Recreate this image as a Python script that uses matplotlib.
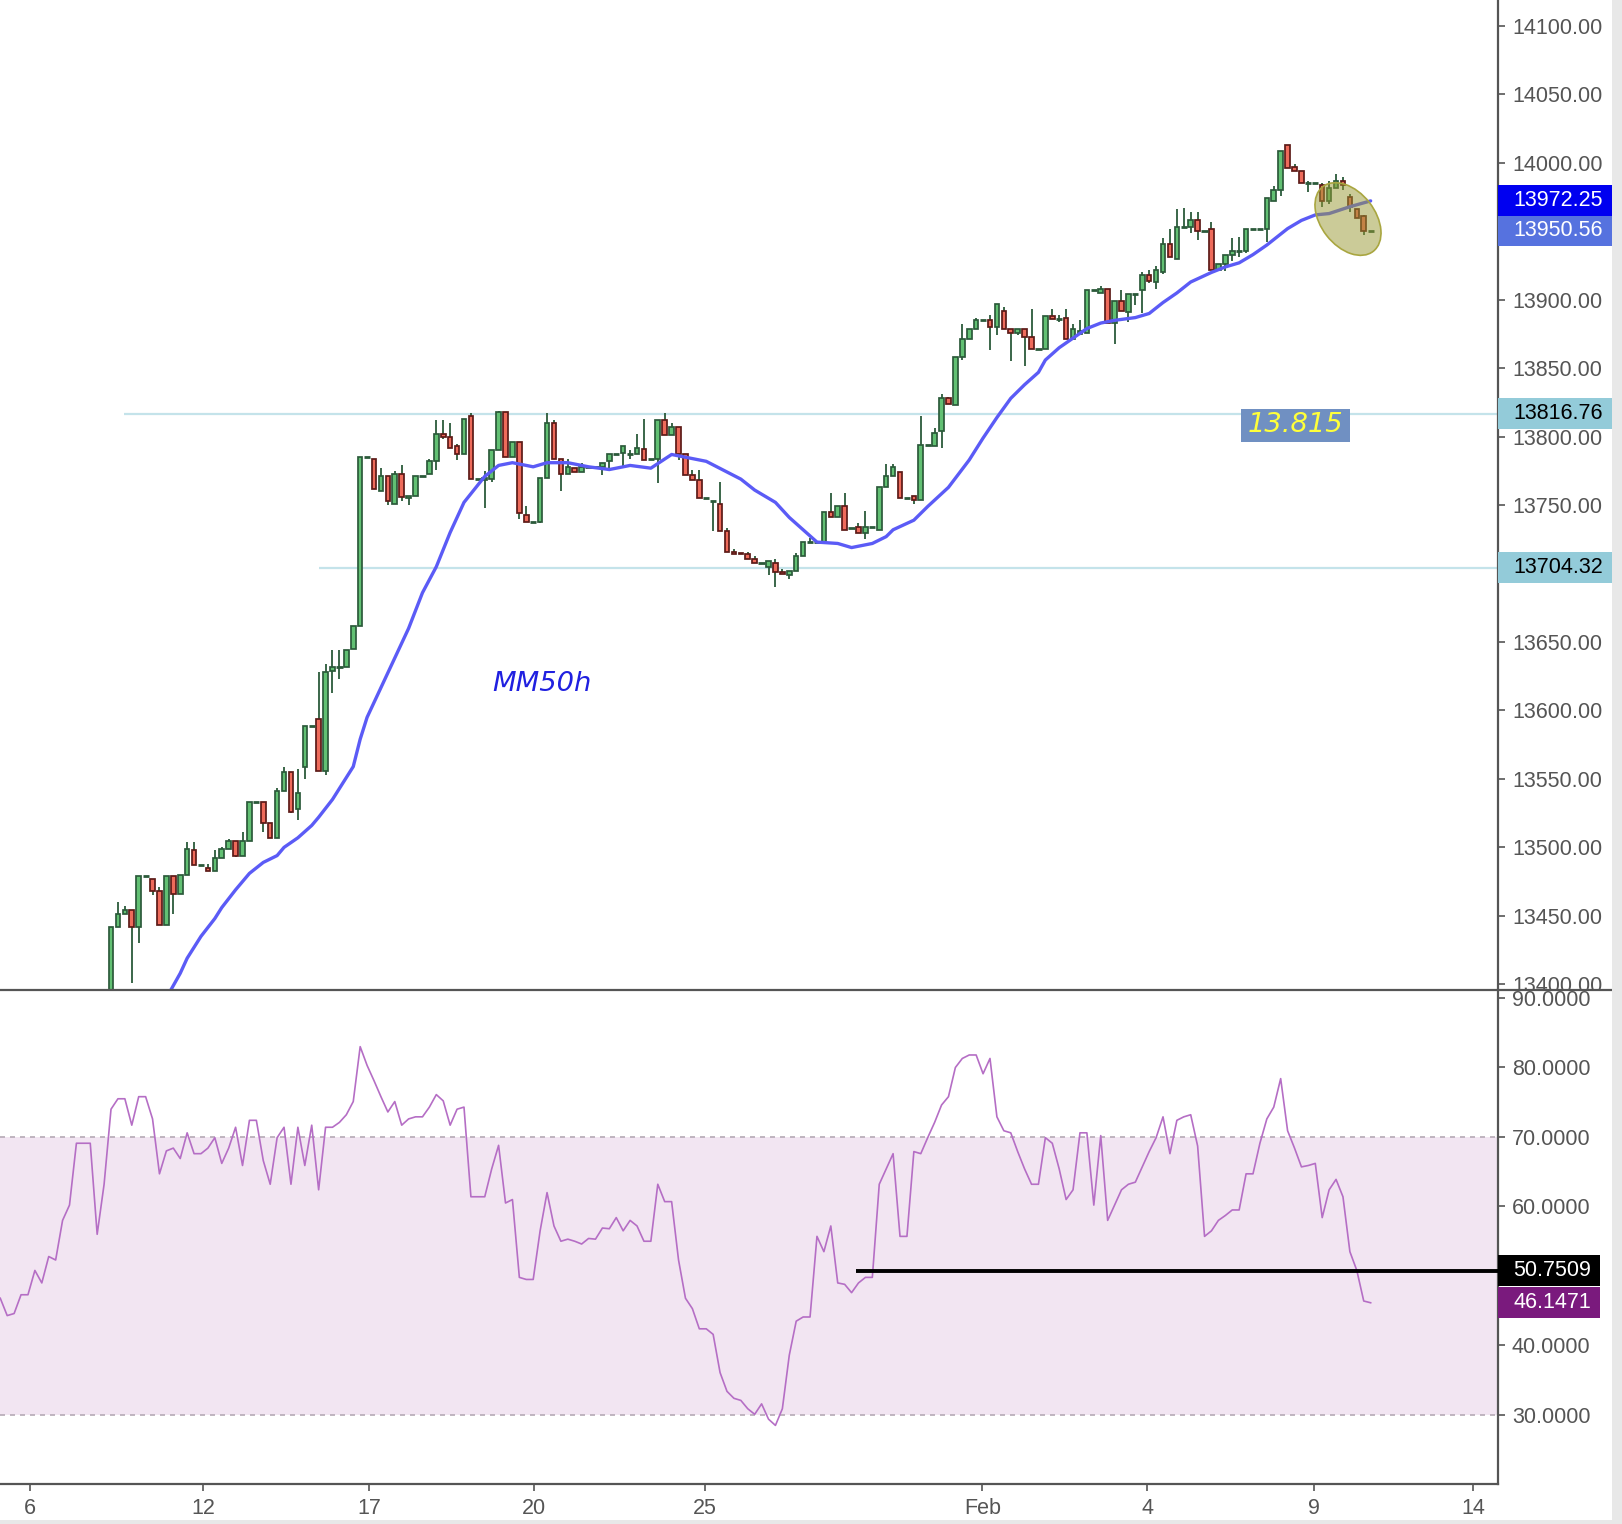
import numpy as np
import matplotlib
matplotlib.use('Agg')
import matplotlib.pyplot as plt
from matplotlib.patches import Rectangle, Ellipse
from matplotlib.lines import Line2D
from matplotlib.ticker import FormatStrFormatter
from matplotlib.transforms import blended_transform_factory, IdentityTransform

plt.rcParams['font.family'] = ['Liberation Sans', 'DejaVu Sans']

# hourly candles, bar 0 = first visible one (open, high, low, close)
ohlc = [
    (13380, 13442, 13375, 13442), (13442, 13460, 13442, 13451), (13451, 13457, 13451, 13454),
    (13454, 13454, 13401, 13442), (13442, 13479, 13430, 13479), (13479, 13479, 13479, 13479),
    (13477, 13477, 13465, 13468), (13468, 13471, 13443, 13443), (13443, 13479, 13443, 13479),
    (13479, 13479, 13451, 13466), (13466, 13480, 13466, 13480), (13480, 13504, 13480, 13499),
    (13498, 13504, 13487, 13487), (13487, 13487, 13487, 13487), (13485, 13488, 13483, 13483),
    (13483, 13498, 13483, 13492), (13492, 13500, 13492, 13499), (13499, 13506, 13499, 13505),
    (13505, 13505, 13493, 13494), (13494, 13511, 13494, 13505), (13505, 13533, 13505, 13533),
    (13533, 13533, 13533, 13533), (13533, 13533, 13511, 13518), (13518, 13518, 13507, 13507),
    (13507, 13543, 13507, 13541), (13541, 13559, 13541, 13555), (13555, 13555, 13525, 13526),
    (13528, 13557, 13520, 13540), (13559, 13589, 13550, 13589), (13589, 13589, 13589, 13589),
    (13594, 13628, 13556, 13556), (13556, 13634, 13553, 13628), (13629, 13644, 13613, 13632),
    (13632, 13644, 13623, 13632), (13632, 13644, 13632, 13644), (13645, 13662, 13645, 13662),
    (13662, 13785, 13662, 13785), (13785, 13785, 13785, 13785), (13784, 13784, 13762, 13762),
    (13760, 13777, 13760, 13771), (13771, 13771, 13750, 13753), (13751, 13775, 13751, 13773),
    (13773, 13779, 13753, 13756), (13755, 13757, 13750, 13757), (13757, 13771, 13757, 13771),
    (13771, 13771, 13771, 13771), (13773, 13784, 13773, 13782), (13782, 13812, 13776, 13802),
    (13802, 13812, 13798, 13800), (13800, 13810, 13792, 13792), (13793, 13795, 13783, 13787),
    (13787, 13813, 13787, 13813), (13815, 13817, 13769, 13769), (13769, 13769, 13769, 13769),
    (13768, 13775, 13748, 13770), (13769, 13790, 13767, 13790), (13790, 13819, 13790, 13818),
    (13818, 13818, 13785, 13785), (13785, 13796, 13785, 13796), (13796, 13796, 13740, 13744),
    (13743, 13749, 13738, 13738), (13738, 13738, 13738, 13738), (13738, 13770, 13737, 13770),
    (13770, 13817, 13770, 13810), (13810, 13812, 13784, 13784), (13784, 13784, 13760, 13773),
    (13773, 13784, 13773, 13778), (13777, 13777, 13774, 13774), (13774, 13781, 13774, 13778),
    (13778, 13778, 13778, 13778), (13778, 13778, 13778, 13778), (13778, 13781, 13772, 13781),
    (13782, 13787, 13777, 13787), (13787, 13787, 13787, 13787), (13788, 13793, 13778, 13793),
    (13787, 13790, 13784, 13787), (13787, 13802, 13787, 13792), (13791, 13813, 13783, 13783),
    (13784, 13784, 13784, 13784), (13784, 13812, 13766, 13812), (13812, 13817, 13801, 13801),
    (13801, 13810, 13801, 13807), (13807, 13807, 13783, 13787), (13787, 13787, 13772, 13772),
    (13772, 13776, 13768, 13768), (13768, 13776, 13755, 13755), (13755, 13755, 13755, 13755),
    (13753, 13753, 13731, 13753), (13751, 13767, 13731, 13731), (13731, 13733, 13716, 13716),
    (13716, 13718, 13714, 13714), (13715, 13715, 13714, 13714), (13714, 13716, 13711, 13711),
    (13711, 13713, 13708, 13708), (13708, 13708, 13708, 13708), (13705, 13709, 13699, 13709),
    (13708, 13711, 13690, 13701), (13701, 13703, 13700, 13700), (13699, 13702, 13696, 13702),
    (13702, 13715, 13702, 13713), (13713, 13723, 13713, 13723), (13723, 13726, 13723, 13723),
    (13723, 13723, 13723, 13723), (13723, 13745, 13723, 13745), (13745, 13759, 13741, 13741),
    (13741, 13749, 13741, 13749), (13749, 13759, 13732, 13732), (13733, 13733, 13733, 13733),
    (13734, 13737, 13730, 13730), (13730, 13746, 13725, 13734), (13734, 13734, 13734, 13734),
    (13732, 13763, 13732, 13763), (13763, 13780, 13763, 13771), (13771, 13780, 13771, 13778),
    (13774, 13774, 13755, 13755), (13755, 13755, 13755, 13755), (13757, 13757, 13751, 13754),
    (13754, 13815, 13754, 13794), (13794, 13794, 13794, 13794), (13793, 13806, 13793, 13803),
    (13804, 13831, 13792, 13828), (13828, 13829, 13824, 13824), (13823, 13858, 13823, 13858),
    (13858, 13882, 13856, 13871), (13871, 13879, 13871, 13879), (13879, 13887, 13879, 13885),
    (13885, 13885, 13885, 13885), (13885, 13889, 13863, 13880), (13880, 13897, 13874, 13897),
    (13892, 13895, 13879, 13879), (13879, 13879, 13855, 13876), (13876, 13879, 13874, 13879),
    (13879, 13879, 13852, 13873), (13873, 13893, 13864, 13864), (13864, 13864, 13864, 13864),
    (13864, 13888, 13864, 13888), (13888, 13893, 13886, 13886), (13886, 13889, 13884, 13886),
    (13887, 13893, 13871, 13871), (13871, 13882, 13871, 13879), (13875, 13885, 13875, 13877),
    (13876, 13907, 13876, 13907), (13907, 13907, 13907, 13907), (13905, 13910, 13905, 13908),
    (13908, 13908, 13883, 13883), (13883, 13899, 13868, 13899), (13899, 13907, 13892, 13892),
    (13891, 13904, 13884, 13904), (13904, 13904, 13896, 13904), (13907, 13920, 13890, 13918),
    (13918, 13922, 13912, 13914), (13913, 13925, 13908, 13922), (13920, 13945, 13919, 13941),
    (13941, 13952, 13931, 13931), (13930, 13966, 13930, 13953), (13953, 13967, 13953, 13953),
    (13953, 13964, 13949, 13958), (13958, 13964, 13944, 13950), (13950, 13950, 13950, 13950),
    (13952, 13957, 13922, 13922), (13922, 13926, 13922, 13926), (13926, 13933, 13921, 13933),
    (13933, 13945, 13928, 13936), (13936, 13946, 13931, 13936), (13936, 13952, 13934, 13952),
    (13952, 13952, 13952, 13952), (13952, 13952, 13952, 13952), (13952, 13974, 13942, 13974),
    (13972, 13983, 13972, 13980), (13980, 14009, 13976, 14009), (14013, 14013, 13996, 13996),
    (13997, 13999, 13994, 13994), (13994, 13994, 13985, 13985), (13985, 13987, 13979, 13985),
    (13985, 13985, 13985, 13985), (13984, 13985, 13968, 13972), (13972, 13987, 13970, 13982),
    (13982, 13992, 13982, 13987), (13987, 13990, 13980, 13984), (13975, 13977, 13964, 13968),
    (13966, 13966, 13960, 13960), (13961, 13962, 13947, 13950), (13950.56, 13950.56, 13950.56, 13950.56),
]

# MM50h moving average, read at these bars
ma_bars = [8, 10, 11, 13, 15, 16, 18, 20, 22, 24, 25, 27, 29, 30, 32, 35, 36, 37, 43, 45,
           47, 49, 51, 54, 56, 58, 61, 63, 66, 69, 72, 75, 78, 81, 83, 86, 91, 93, 96, 98,
           100, 102, 105, 107, 110, 112, 113, 116, 118, 121, 124, 126, 128, 130, 132, 134,
           135, 137, 139, 141, 143, 145, 148, 150, 152, 154, 156, 159, 161, 163, 165, 167,
           170, 172, 174, 176, 179, 182]
ma_values = [13390, 13408, 13419, 13435, 13448, 13456, 13469, 13481, 13489, 13494, 13500, 13507,
             13516, 13522, 13535, 13559, 13579, 13595, 13660, 13686, 13705, 13730, 13752, 13771,
             13779, 13781, 13778, 13781, 13781, 13778, 13776, 13779, 13777, 13787, 13785, 13782,
             13769, 13761, 13752, 13741, 13732, 13723, 13722, 13719, 13722, 13727, 13732, 13739,
             13749, 13763, 13783, 13799, 13814, 13828, 13838, 13847, 13856, 13865, 13872, 13879,
             13883, 13885, 13887, 13890, 13898, 13905, 13913, 13920, 13924, 13927, 13933, 13940,
             13952, 13958, 13962, 13963, 13968, 13972.25]

# RSI, one value per bar starting at bar -16
rsi_start = -16
rsi_values = [
    46.8, 44.3, 44.6, 47.3, 47.3, 50.8, 49.0, 52.8, 52.3, 58.0, 60.2, 69.1, 69.1, 69.1, 56.0, 63.2,
    74.0, 75.5, 75.5, 71.7, 75.8, 75.8, 72.6, 64.7, 68.0, 68.4,
    66.9, 70.6, 67.6, 67.6, 68.4, 69.9, 66.2, 68.4, 71.4, 65.9,
    72.4, 72.4, 66.6, 63.2, 69.9, 71.4, 63.2, 71.4, 65.9, 71.7,
    62.4, 71.4, 71.4, 72.1, 73.2, 75.1, 83.0, 80.3, 78.1, 75.8,
    73.6, 75.1, 71.7, 72.6, 72.9, 72.9, 74.3, 76.1, 75.2, 71.7,
    74.0, 74.3, 61.4, 61.4, 61.4, 65.4, 68.8, 60.5, 61.0, 49.8,
    49.5, 49.5, 56.5, 62.0, 57.2, 55.0, 55.3, 55.0, 54.6, 55.4,
    55.3, 56.9, 56.8, 58.4, 56.5, 58.0, 57.2, 55.0, 55.0, 63.2,
    60.7, 60.7, 52.3, 46.8, 45.3, 42.4, 42.4, 41.6, 36.1, 33.4,
    32.4, 32.1, 30.9, 30.1, 31.6, 29.4, 28.5, 30.9, 38.6, 43.5,
    44.1, 44.1, 55.7, 53.5, 57.2, 49.0, 48.8, 47.6, 49.0, 49.8,
    49.8, 63.2, 65.4, 67.6, 55.7, 55.7, 67.9, 67.6, 69.9, 72.1,
    74.6, 75.8, 80.0, 81.3, 81.8, 81.8, 79.1, 81.3, 72.9, 70.9,
    70.6, 67.9, 65.4, 63.2, 63.2, 69.9, 69.1, 65.4, 61.0, 62.4,
    70.6, 70.6, 60.2, 70.2, 58.0, 60.2, 62.4, 63.2, 63.5, 65.7,
    67.9, 69.9, 72.9, 67.6, 72.4, 72.9, 73.2, 68.7, 55.7, 56.5,
    58.0, 58.7, 59.5, 59.5, 64.7, 64.7, 69.1, 72.6, 74.3, 78.4,
    70.9, 68.4, 65.7, 65.9, 66.2, 58.4, 62.4, 63.9, 61.4, 53.5,
    50.8, 46.4, 46.1471,
]

tick_bars = [-11.7, 13.3, 37.3, 61.1, 85.8, 125.9, 149.7, 173.8, 196.8]
tick_labels = ['6', '12', '17', '20', '25', 'Feb', '4', '9', '14']

support = 13704.32
resistance = 13816.76
ma_last = 13972.25
last_price = 13950.56
rsi_level = 50.7509
rsi_last = 46.1471

W, H = 1622, 1524
GREY = '#555555'
fig = plt.figure(figsize=(W / 100, H / 100), dpi=100)
ax = fig.add_axes([0, (H - 990) / H, 1498 / W, 990 / H])
rx = fig.add_axes([0, (H - 1484) / H, 1498 / W, 494 / H])
ax.set_zorder(0)
rx.set_zorder(1)

xmin, xmax = -16.04, 200.4

# candles
ohlc = np.array(ohlc, dtype=float)
o, h, l, c = ohlc.T
bars = np.arange(len(ohlc))
h = np.maximum(h, np.maximum(o, c))
l = np.minimum(l, np.minimum(o, c))
up = c >= o
ax.vlines(bars, l, h, color='#2b5a3a', lw=1.3, zorder=2)
body = np.abs(c - o) >= 1
for mask, fill, edge in [(up & body, '#62c073', '#2b5a3a'), (~up & body, '#ee6b5b', '#5c1a17')]:
    ax.bar(bars[mask], (c - o)[mask], bottom=o[mask], width=0.66, color=fill,
           edgecolor=edge, linewidth=1.25, zorder=3)
doji = ~body
ax.hlines(c[doji], bars[doji] - 0.45, bars[doji] + 0.45,
          color=np.where(up[doji], '#2b5a3a', '#5c1a17'), lw=2.0, zorder=3)

ax.plot(ma_bars, ma_values, color='#5b5bf6', lw=2.4, zorder=4,
        solid_capstyle='round', solid_joinstyle='round')

ax.hlines(resistance, 1.9, xmax, color='#c4e3ea', lw=1.6, zorder=1)
ax.hlines(support, 30, xmax, color='#c4e3ea', lw=1.6, zorder=1)

ax.add_patch(Rectangle((163.3, 13796.1), 15.7, 24.1, fc='#7090c2', ec='none', zorder=5))
ax.text(171.15, 13808.6, '13.815', family='DejaVu Sans', style='italic', fontsize=19.7,
        color='#ffff3a', ha='center', va='center', zorder=6)
ax.text(62.3, 13619.5, 'MM50h', family='DejaVu Sans', style='italic', fontsize=19.7,
        color='#2020e0', ha='center', va='center', zorder=6)

ell = Ellipse((1348, H - 219), 82, 54, angle=-52, transform=IdentityTransform(),
              fc=(0.6, 0.6, 0.2, 0.5), ec='#a9a640', lw=1.2, zorder=7)
ax.add_patch(ell)

ax.set_xlim(xmin, xmax)
ax.set_ylim(13395.8, 14119)
ax.set_xticks([])
ax.yaxis.tick_right()
ax.set_yticks(np.arange(13400, 14101, 50))
ax.yaxis.set_major_formatter(FormatStrFormatter('%.2f'))
ax.tick_params(axis='y', direction='out', length=5, width=1.2, colors=GREY,
               labelsize=15.5, pad=5)
for s in ['left', 'top', 'bottom']:
    ax.spines[s].set_visible(False)
ax.spines['right'].set_color(GREY)
ax.spines['right'].set_linewidth(1.6)

# RSI panel
rsi_bars = np.arange(rsi_start, rsi_start + len(rsi_values))
rx.axhspan(30, 70, color='#f2e5f2', zorder=0, lw=0)
for lvl in (30, 70):
    rx.axhline(lvl, color='#b5a9b5', lw=1.2, ls=(0, (3, 3)), zorder=1)
rx.plot(rsi_bars, rsi_values, color='#b56ec5', lw=1.2, zorder=3)
rx.hlines(rsi_level, 107.7, xmax, color='black', lw=2.8, zorder=4)

rx.set_xlim(xmin, xmax)
rx.set_ylim(20.07, 91.15)
rx.yaxis.tick_right()
rx.set_yticks(np.arange(30, 91, 10))
rx.yaxis.set_major_formatter(FormatStrFormatter('%.4f'))
rx.set_xticks(tick_bars)
rx.set_xticklabels(tick_labels)
rx.tick_params(axis='both', direction='out', length=5, width=1.2, colors=GREY,
               labelsize=15.5, pad=5)
for s in ['left', 'top']:
    rx.spines[s].set_visible(False)
for s in ['right', 'bottom']:
    rx.spines[s].set_color(GREY)
    rx.spines[s].set_linewidth(1.6)


def side_box(axis, y, hgt, width, text, fc, tc):
    tr = blended_transform_factory(axis.transAxes, axis.transData)
    axis.add_patch(Rectangle((1.0, y - hgt / 2), width, hgt, transform=tr, fc=fc, ec='none',
                             clip_on=False, zorder=8))
    axis.text(1.0101, y, text, transform=tr, color=tc, fontsize=15.5, ha='left',
              va='center', zorder=9, clip_on=False)


side_box(ax, last_price, 22.6, 0.0761, '%.2f' % last_price, '#5672df', 'white')
side_box(ax, ma_last, 22.6, 0.0761, '%.2f' % ma_last, '#0000f0', 'white')
side_box(ax, resistance, 22.6, 0.0761, '%.2f' % resistance, '#93cbd9', 'black')
side_box(ax, support, 22.6, 0.0761, '%.2f' % support, '#93cbd9', 'black')
side_box(rx, rsi_level, 4.46, 0.0681, '%.4f' % rsi_level, 'black', 'white')
side_box(rx, rsi_last, 4.46, 0.0681, '%.4f' % rsi_last, '#7a1a7d', 'white')

# cover main-panel labels that spill below the separator, then frame
fig.add_artist(Rectangle((1500 / W, 0), 112 / W, (H - 991) / H, transform=fig.transFigure,
                         fc='white', ec='none', zorder=0.5))
fig.add_artist(Line2D([0, 1612 / W], [(H - 990) / H] * 2, transform=fig.transFigure,
                      color=GREY, lw=1.6, zorder=5))
fig.add_artist(Rectangle((1612 / W, 0), 10 / W, 1, transform=fig.transFigure,
                         fc='#e8e8e8', ec='none', zorder=5))
fig.add_artist(Rectangle((0, 0), 1, 4 / H, transform=fig.transFigure,
                         fc='#e8e8e8', ec='none', zorder=5))

fig.savefig('out.png', dpi=100)
